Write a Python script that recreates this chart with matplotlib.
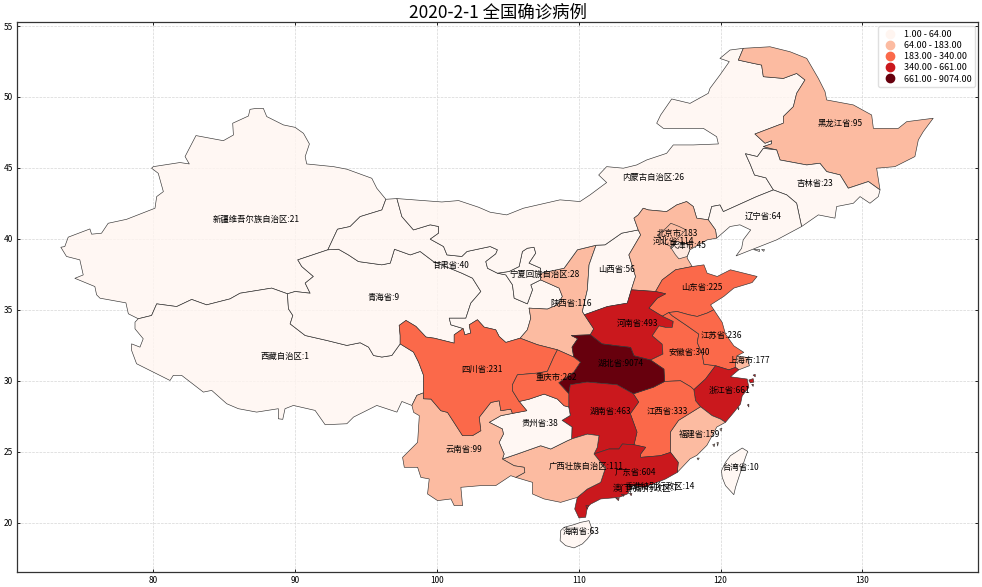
import matplotlib
matplotlib.use("Agg")
import matplotlib.pyplot as plt
from matplotlib.lines import Line2D
import numpy as np

plt.rcParams['font.family'] = ['Noto Sans CJK SC', 'DejaVu Sans']
plt.rcParams['axes.unicode_minus'] = False

TITLE = "2020-2-1 全国确诊病例"
CLASS_BREAKS = [1, 64, 183, 340, 661, 9074]
XTICKS = [80, 90, 100, 110, 120, 130]
YTICKS = [20, 25, 30, 35, 40, 45, 50, 55]

# Province names and confirmed cases
NAMES = {
 'xj': '新疆维吾尔族自治区', 'tb': '西藏自治区', 'qh': '青海省', 'gs': '甘肃省', 'nx': '宁夏回族自治区',
 'sn': '陕西省', 'sx': '山西省', 'im': '内蒙古自治区', 'hl': '黑龙江省', 'jl': '吉林省', 'ln': '辽宁省',
 'he': '河北省', 'bj': '北京市', 'tj': '天津市', 'sd': '山东省', 'ha': '河南省', 'ah': '安徽省', 'js': '江苏省',
 'sh': '上海市', 'zj': '浙江省', 'fj': '福建省', 'jx': '江西省', 'hb': '湖北省', 'hn': '湖南省', 'gd': '广东省',
 'gx': '广西壮族自治区', 'gz': '贵州省', 'yn': '云南省', 'sc': '四川省', 'cq': '重庆市', 'tw': '台湾省',
 'hi': '海南省', 'hk': '香港特别行政区', 'mo': '澳门特别行政区'}
CASES = {
 'xj': 21, 'tb': 1, 'qh': 9, 'gs': 40, 'nx': 28, 'sn': 116, 'sx': 56, 'im': 26, 'hl': 95, 'jl': 23, 'ln': 64,
 'he': 114, 'bj': 183, 'tj': 45, 'sd': 225, 'ha': 493, 'ah': 340, 'js': 236, 'sh': 177, 'zj': 661, 'fj': 159,
 'jx': 333, 'hb': 9074, 'hn': 463, 'gd': 604, 'gx': 111, 'gz': 38, 'yn': 99, 'sc': 231, 'cq': 262, 'tw': 10,
 'hi': 63, 'hk': 14, 'mo': 7}
LABEL_AT = {
 'xj': (87.27, 41.36), 'tb': (89.25, 31.74), 'qh': (96.24, 35.84), 'gs': (100.97, 38.1), 'nx': (107.6, 37.47),
 'sn': (109.45, 35.42), 'sx': (112.7, 37.82), 'im': (115.24, 44.33), 'hl': (128.45, 48.15), 'jl': (126.68, 43.9),
 'ln': (123.0, 41.57), 'he': (116.72, 39.8), 'bj': (117.0, 40.4), 'tj': (117.7, 39.5), 'sd': (118.7, 36.55),
 'ha': (114.18, 34.07), 'ah': (117.78, 32.02), 'js': (120.04, 33.22), 'sh': (122.02, 31.46), 'zj': (120.6, 29.34),
 'fj': (118.5, 26.22), 'jx': (116.28, 27.85), 'hb': (112.98, 31.2), 'hn': (112.27, 27.85), 'gd': (113.97, 23.54),
 'gx': (110.5, 23.98), 'gz': (107.26, 27.0), 'yn': (101.87, 25.16), 'sc': (103.16, 30.82), 'cq': (108.44, 30.25),
 'tw': (121.38, 23.89), 'hi': (110.16, 19.36), 'hk': (115.73, 22.57), 'mo': (114.75, 22.43)}

SEG = {
 'xj_outer': [(78.94,34.37),(78.24,34.72),(78.07,35.49),(76.24,35.82),(76.0,36.06),(75.88,36.64),(74.47,37.22),(75.06,37.46),(74.82,38.52),(73.88,38.76),(73.48,39.41),(73.76,39.46),(74.0,40.12),(75.53,40.7),(75.65,40.33),(76.35,40.4),(76.82,41.1),(78.12,41.38),(80.12,42.16),(80.24,42.98),(80.71,43.33),(80.35,44.62),(79.88,44.98),(80.0,45.09),(81.88,45.38),(82.54,45.28),(82.24,45.8),(83.01,47.28),(84.94,46.92),(85.65,47.32),(85.6,48.15),(86.71,48.66),(86.82,49.13),(87.29,49.2),(87.76,49.2),(88.0,48.62),(89.18,48.03),(90.0,47.86),(90.59,47.44),(91.01,46.69),(90.71,45.8),(90.82,45.28),(92.71,45.09),(93.65,44.91),(95.41,44.27),(95.76,43.57),(96.4,42.79)],
 'xj_gs': [(96.4,42.79),(96.12,42.04),(94.59,41.57),(93.88,40.87),(92.99,40.68),(92.31,39.23)],
 'xj_qh': [(92.31,39.23),(90.19,38.52),(90.47,38.05),(91.29,37.35),(90.71,36.88),(91.06,36.17),(90.0,36.29),(89.46,36.13)],
 'xj_tb': [(89.46,36.13),(88.35,36.53),(86.12,36.17),(85.41,35.77),(83.76,35.35),(82.71,35.73),(81.65,35.23),(80.24,35.42),(79.88,34.6),(78.94,34.37)],
 'tb_outer': [(78.94,34.37),(78.71,34.13),(78.71,33.66),(79.29,32.96),(79.06,32.37),(78.47,32.6),(78.47,32.14),(78.82,31.2),(80.0,30.61),(81.18,30.02),(81.41,30.38),(82.0,30.38),(83.53,29.2),(84.12,29.32),(85.18,28.38),(86.0,28.03),(87.29,27.79),(88.82,28.03),(88.82,27.32),(89.13,27.28),(89.29,28.03),(89.88,28.26),(91.41,27.91),(92.12,26.9),(93.65,26.97),(94.12,27.44),(95.76,28.26),(97.18,27.79),(97.53,28.54),(98.24,28.26)],
 'tb_yn': [(98.24,28.26),(98.59,28.97),(99.06,29.15)],
 'tb_sc': [(99.06,29.15),(99.06,30.38),(98.71,31.31),(98.35,32.02),(97.41,32.6)],
 'tb_qh': [(97.41,32.6),(96.82,31.78),(96.12,31.67),(95.53,31.78),(95.18,32.37),(94.59,32.68),(93.65,32.49),(92.24,32.84),(90.71,33.19),(89.65,34.01),(89.84,34.6),(89.53,35.07),(89.46,36.13)],
 'qh_sc': [(97.41,32.6),(97.41,33.19),(97.34,33.9),(97.82,34.25),(98.52,33.83),(99.23,33.08),(99.81,33.0),(101.22,32.65),(101.22,33.24),(101.85,33.68)],
 'qh_gs': [(92.31,39.23),(93.06,39.27),(93.76,38.87),(94.47,38.4),(96.12,38.17),(96.71,38.29),(97.01,39.27),(98.12,38.87),(98.82,39.11),(99.76,38.4),(101.76,37.58),(102.51,37.23),(103.1,36.29),(102.39,35.47),(102.04,34.41),(100.87,34.41),(100.99,33.94),(101.85,33.68)],
 'gs_outer': [(96.4,42.79),(97.18,42.84)],
 'gs_im': [(97.18,42.84),(97.53,41.57),(98.35,40.63),(99.53,40.99),(100.12,40.87),(100.12,40.4),(99.53,39.98),(100.47,39.46),(100.71,38.87),(101.76,38.76),(102.12,39.11),(103.76,39.46),(104.27,39.23),(104.15,38.94),(103.45,38.4),(103.57,37.93),(104.27,37.58)],
 'gs_nx': [(104.27,37.58),(104.86,37.46),(105.33,36.76),(105.45,35.82),(106.38,35.42),(106.74,36.41),(106.62,36.76),(107.32,37.11)],
 'gs_sn': [(107.32,37.11),(108.62,36.53),(108.85,35.94),(108.5,35.35),(107.79,35.05),(106.5,35.12),(106.62,34.41),(106.38,33.59),(105.87,33.0)],
 'gs_sc': [(105.87,33.0),(104.86,32.7),(104.39,33.12),(104.15,33.59),(103.33,33.78),(102.86,34.3),(102.28,33.94),(102.39,33.36),(101.97,33.24),(101.85,33.68)],
 'nx_im': [(104.27,37.58),(105.09,37.7),(105.8,38.05),(106.03,39.11),(106.38,39.34),(106.85,39.41),(106.97,38.99),(106.5,38.29),(107.32,37.93),(107.32,37.58)],
 'nx_sn': [(107.32,37.58),(107.32,37.11)],
 'sn_im': [(107.32,37.58),(108.97,37.93),(109.91,39.23),(111.22,39.55)],
 'sn_sx': [(111.22,39.55),(110.73,38.17),(110.61,36.41),(110.26,34.88),(110.4,34.65)],
 'sn_ha': [(110.4,34.65),(111.06,33.66),(110.82,33.24)],
 'sn_hb': [(110.82,33.24),(109.48,33.19),(109.93,32.96),(109.53,32.37),(109.65,31.67)],
 'sn_cq': [(109.65,31.67),(108.5,32.18)],
 'sn_sc': [(108.5,32.18),(107.09,32.54),(105.87,33.0)],
 'sx_im': [(111.22,39.55),(111.86,39.58),(113.03,40.4),(114.2,40.63)],
 'sx_he': [(114.2,40.63),(114.37,40.28),(113.54,38.87),(114.01,37.35),(113.71,36.41)],
 'sx_ha': [(113.71,36.41),(113.43,35.47),(112.02,35.23),(110.4,34.65)],
 'he_im': [(114.2,40.63),(113.9,41.46),(114.2,41.69),(114.55,42.16),(114.91,42.04),(116.2,41.92),(116.91,42.39),(117.61,42.63),(118.08,42.28),(118.32,41.46),(119.14,41.34)],
 'he_ln': [(119.14,41.34),(119.65,40.63),(119.73,40.05)],
 'he_coast': [(119.73,40.05),(119.06,39.93),(117.84,39.23),(117.65,38.76),(117.65,38.64),(118.0,38.05)],
 'he_sd': [(118.0,38.05),(116.83,37.82),(115.89,37.11),(115.42,36.29)],
 'he_ha': [(115.42,36.29),(113.71,36.41)],
 'im_outer': [(97.18,42.84),(100.35,42.6),(101.53,42.7),(102.94,42.23),(103.75,41.88),(104.92,41.69),(106.1,42.16),(108.68,42.75),(110.09,42.63),(110.8,43.1),(111.97,43.97),(111.41,44.5),(111.97,45.09),(113.15,44.98),(114.09,45.21),(114.79,45.56),(116.2,46.03),(116.67,46.62),(118.08,46.62),(119.85,46.69),(119.73,47.2),(118.79,47.79),(117.26,47.79),(115.97,47.79),(115.5,48.15),(115.78,48.73),(116.56,49.86),(117.85,49.55),(119.14,50.26),(119.26,50.61),(119.96,51.55),(120.62,52.49),(119.96,52.72),(120.67,53.31),(121.61,53.43)],
 'im_hl': [(121.61,53.43),(121.26,52.6),(122.31,52.37),(122.9,52.25),(123.02,51.43),(124.43,51.31),(125.37,51.66),(125.96,51.2),(125.37,50.26),(125.14,49.32),(124.43,48.62),(124.43,48.15),(122.43,47.39),(123.14,46.74),(123.61,46.92),(123.6,46.7),(123.02,46.5),(123.96,46.27)],
 'im_jl': [(123.96,46.27),(123.02,46.38),(122.6,45.8),(121.76,46.0),(122.1,45.25),(122.4,44.5),(123.2,44.3),(123.73,43.45)],
 'im_ln': [(123.73,43.45),(122.55,42.98),(120.2,41.92),(119.96,42.39),(119.38,42.28),(119.14,41.34)],
 'hl_outer': [(121.61,53.43),(123.49,53.54),(124.9,53.19),(126.08,52.72),(126.9,51.31),(127.37,50.38),(127.49,49.79),(129.37,49.44),(130.66,48.73),(130.78,47.79),(132.54,47.79),(133.13,48.26),(135.0,48.5),(134.3,47.56),(133.95,46.97),(133.71,45.8),(132.3,45.09),(131.01,44.98),(131.25,43.45)],
 'hl_jl': [(131.25,43.45),(130.43,44.04),(129.01,43.57),(128.43,44.51),(127.49,44.74),(127.01,45.33),(126.08,45.21),(124.2,45.56),(123.96,46.27)],
 'jl_outer': [(131.25,43.45),(131.13,42.98),(130.54,42.51),(129.84,42.98),(129.37,42.51),(128.19,42.28),(128.07,41.46),(126.9,41.69),(125.72,40.87)],
 'jl_ln': [(125.72,40.87),(125.37,42.51),(124.67,43.1),(123.73,43.45)],
 'ln_coast': [(119.73,40.05),(120.67,40.87),(121.37,40.99),(122.13,40.63),(121.6,39.93),(121.49,39.34),(121.1,38.8),(121.85,39.1),(123.96,39.93),(125.72,40.87)],
 'sd_coast': [(118.0,38.05),(118.83,38.17),(119.06,37.58),(119.77,37.35),(120.7,37.82),(122.58,37.35),(122.23,36.92),(120.94,36.53),(120.23,35.94),(119.3,35.35),(119.53,35.0)],
 'sd_js': [(119.53,35.0),(119.06,34.77),(118.36,34.53),(117.77,34.65),(116.95,34.88),(116.36,34.81)],
 'sd_ah': [(116.36,34.81),(115.9,34.55)],
 'sd_ha': [(115.9,34.55),(115.72,34.65),(114.95,35.12),(115.54,35.82),(116.13,36.13),(115.42,36.29)],
 'ha_ah': [(115.9,34.55),(116.67,34.18),(116.6,33.76),(116.13,33.76),(115.66,33.87),(115.19,33.17),(115.89,32.58),(115.94,31.88),(115.07,31.46)],
 'ha_hb': [(115.07,31.46),(113.9,31.76),(113.66,32.35),(112.72,32.46),(111.64,32.6),(110.82,33.24)],
 'ah_js': [(116.36,34.81),(116.6,34.58),(117.65,33.87),(118.47,33.29),(118.36,32.7),(118.71,31.88),(118.83,31.17),(119.65,31.06)],
 'ah_zj': [(119.65,31.06),(118.94,30.12),(118.12,29.37)],
 'ah_jx': [(118.12,29.37),(117.89,29.58),(117.18,30.0),(116.06,29.95)],
 'ah_hb': [(116.06,29.95),(116.01,30.82),(115.07,31.46)],
 'js_coast': [(119.53,35.0),(120.12,34.11),(120.35,33.29),(120.94,32.46),(121.64,32.0),(121.17,31.76)],
 'js_sh': [(121.17,31.76),(121.06,31.17),(121.06,30.94)],
 'js_zj': [(121.06,30.94),(120.59,30.77),(119.65,31.06)],
 'sh_coast': [(121.17,31.76),(121.88,31.64),(122.04,31.06),(121.29,30.77)],
 'sh_zj': [(121.29,30.77),(121.06,30.94)],
 'zj_coast': [(121.29,30.77),(120.7,30.28),(121.88,30.12),(122.0,29.53),(121.53,28.94),(121.41,28.36),(120.94,27.77),(120.35,27.07)],
 'zj_fj': [(120.35,27.07),(120.0,27.3),(119.41,27.54),(118.59,28.17)],
 'zj_jx': [(118.59,28.17),(118.24,28.59),(118.12,29.37)],
 'fj_coast': [(120.35,27.07),(119.74,26.74),(119.04,25.45),(118.33,24.74),(117.86,24.5),(116.95,23.54)],
 'fj_gd': [(116.95,23.54),(117.02,24.25),(116.48,24.95)],
 'fj_jx': [(116.48,24.95),(116.46,26.38),(117.04,27.21),(118.59,28.17)],
 'jx_gd': [(116.48,24.95),(115.77,24.72),(114.37,24.6),(114.37,24.84),(114.72,25.31),(113.9,25.49)],
 'jx_hn': [(113.9,25.49),(114.11,26.38),(113.64,27.68),(114.23,28.5),(113.85,29.08)],
 'jx_hb': [(113.85,29.08),(115.28,29.55),(116.06,29.95)],
 'hb_hn': [(113.85,29.08),(112.7,29.72),(110.59,29.91),(109.41,29.72),(109.3,29.08)],
 'hb_cq': [(109.3,29.08),(108.59,29.86),(109.65,30.61),(110.12,31.31),(109.65,31.67)],
 'hn_cq': [(109.3,29.08),(109.3,28.15)],
 'hn_gz': [(109.3,28.15),(109.41,27.56),(108.83,27.21),(109.53,26.74),(109.5,25.9)],
 'hn_gx': [(109.5,25.9),(110.61,26.24),(111.43,26.13),(111.31,25.3),(111.08,24.84)],
 'hn_gd': [(111.08,24.84),(112.14,25.19),(112.84,25.19),(113.08,25.54),(113.9,25.49)],
 'gd_coast': [(116.95,23.54),(116.13,23.08),(115.54,22.84),(114.6,22.49),(113.78,22.6),(113.43,22.02),(112.84,21.78),(111.55,21.67),(110.85,21.31),(110.61,21.08),(110.49,20.38),(110.02,20.33),(109.72,20.96),(109.9,21.78)],
 'gd_gx': [(109.9,21.78),(110.61,22.37),(111.55,22.84),(111.9,23.9),(111.55,24.25),(111.08,24.84)],
 'gx_coast': [(109.9,21.78),(108.73,21.43),(107.56,21.67),(106.74,22.02),(106.74,22.84),(105.56,23.19)],
 'gx_yn': [(105.56,23.19),(106.2,23.54),(106.15,23.9),(105.45,24.01),(104.62,24.48)],
 'gx_gz': [(104.62,24.48),(105.68,24.84),(107.32,25.42),(108.03,25.19),(109.2,25.77),(109.5,25.9)],
 'gz_yn': [(104.62,24.48),(104.74,24.84),(104.39,25.66),(104.69,26.24),(104.62,26.6),(103.69,27.07),(104.51,27.54),(105.33,27.7)],
 'gz_sc': [(105.33,27.7),(106.34,27.89),(105.8,28.54)],
 'gz_cq': [(105.8,28.54),(106.5,28.7),(107.56,29.06),(108.5,28.71),(108.97,28.24),(109.3,28.15)],
 'yn_sc': [(105.33,27.7),(105.21,28.0),(104.51,27.89),(104.39,28.59),(103.8,28.47),(102.98,27.42),(103.1,26.48),(102.51,26.13),(101.81,26.13),(100.75,27.77),(100.28,27.89),(99.58,28.71),(99.06,28.73),(99.06,29.15)],
 'yn_outer': [(105.56,23.19),(105.21,23.31),(104.15,22.61),(103.1,22.61),(101.69,22.49),(101.81,21.2),(101.22,21.2),(100.99,21.67),(100.05,21.55),(99.34,22.02),(99.46,23.08),(98.87,23.19),(98.64,23.9),(97.7,23.9),(97.58,24.6),(98.64,25.66),(98.76,27.54),(98.36,27.77),(98.24,28.26)],
 'sc_cq': [(108.5,32.18),(108.26,31.71),(107.79,30.66),(107.09,30.54),(105.68,30.42),(105.33,29.72),(105.33,29.3),(105.8,28.54)],
}
OWN = {
 'bj': [[(116.5,41.1),(117.09,40.87),(117.56,40.64),(116.98,40.05),(116.5,39.46),(116.04,39.69),(115.56,40.28),(116.15,40.75)]],
 'tj': [[(116.95,39.81),(116.48,39.41),(116.83,38.87),(117.07,38.59),(117.65,38.76),(117.84,39.23),(117.77,39.58)]],
 'tw': [[(121.53,25.26),(121.92,25.02),(121.76,24.6),(121.29,23.19),(121.06,22.49),(120.94,21.97),(120.35,22.61),(120.12,23.19),(120.07,23.66),(120.35,24.25),(120.7,24.72),(121.06,24.95)]],
 'hi': [[(108.73,19.44),(108.97,19.67),(109.67,19.86),(110.14,20.02),(110.73,20.14),(110.89,19.67),(110.96,19.32),(110.61,18.85),(110.26,18.5),(109.67,18.22),(109.08,18.38),(108.69,18.73)]],
 'hk': [[(114.0,22.5),(114.4,22.55),(114.35,22.25),(114.0,22.25)]],
 'mo': [[(113.5,22.2),(113.6,22.2),(113.6,22.1),(113.5,22.1)]],
}
ISLANDS = {
 'zj': [[(122.0,30.05),(122.3,30.15),(122.35,29.9),(122.1,29.85)],[(122.3,30.4),(122.45,30.45),(122.45,30.28)],[(121.9,28.3),(122.0,28.35),(122.0,28.15)],
        [(122.2,29.75),(122.32,29.75),(122.3,29.6)],[(121.2,28.1),(121.3,28.1),(121.28,27.95)]],
 'ln': [[(122.3,39.3),(122.7,39.3),(122.7,39.18)],[(122.9,39.25),(123.1,39.25),(123.05,39.12)]],
 'gd': [[(112.6,21.75),(112.85,21.7),(112.8,21.55)],[(113.0,22.0),(113.2,22.0),(113.15,21.85)],[(110.5,21.2),(110.7,21.2),(110.6,20.95)],
        [(113.6,22.05),(113.75,22.05),(113.7,21.9)],[(114.6,22.45),(114.72,22.45),(114.7,22.33)]],
 'fj': [[(119.75,25.65),(119.85,25.65),(119.8,25.4)],[(119.45,25.5),(119.6,25.55),(119.55,25.35)],[(118.35,24.55),(118.5,24.55),(118.42,24.42)],
        [(119.95,26.6),(120.1,26.65),(120.05,26.45)]],
}
ROUTES = {
 'xj': 'xj_outer xj_gs xj_qh xj_tb',
 'tb': 'tb_outer tb_yn tb_sc tb_qh xj_tb',
 'qh': 'xj_qh ~tb_qh qh_sc ~qh_gs',
 'gs': 'gs_outer gs_im gs_nx gs_sn gs_sc ~qh_gs ~xj_gs',
 'nx': 'nx_im nx_sn ~gs_nx',
 'sn': 'sn_im sn_sx sn_ha sn_hb sn_cq sn_sc ~gs_sn ~nx_sn',
 'sx': 'sx_im sx_he sx_ha ~sn_sx',
 'im': 'im_outer im_hl im_jl im_ln ~he_im ~sx_im ~sn_im ~nx_im ~gs_im',
 'hl': 'hl_outer hl_jl ~im_hl',
 'jl': 'jl_outer jl_ln ~im_jl ~hl_jl',
 'ln': 'he_ln ln_coast jl_ln im_ln',
 'he': 'he_im he_ln he_coast he_sd he_ha ~sx_he',
 'sd': 'sd_coast sd_js sd_ah sd_ha ~he_sd',
 'ha': 'he_ha sx_ha sn_ha ~ha_hb ~ha_ah sd_ha',
 'ah': '~sd_ah ah_js ah_zj ah_jx ah_hb ~ha_ah',
 'js': 'js_coast js_sh js_zj ~ah_js ~sd_js',
 'sh': 'sh_coast sh_zj ~js_sh',
 'zj': 'zj_coast zj_fj zj_jx ~ah_zj ~js_zj ~sh_zj',
 'fj': 'fj_coast fj_gd fj_jx ~zj_fj',
 'jx': 'ah_jx ~jx_hb ~jx_hn ~jx_gd fj_jx zj_jx',
 'hb': 'sn_hb ~hb_cq ~hb_hn jx_hb ah_hb ha_hb',
 'hn': 'hn_cq hn_gz hn_gx hn_gd jx_hn hb_hn',
 'gd': 'gd_coast gd_gx hn_gd ~jx_gd ~fj_gd',
 'gx': 'gx_coast gx_yn gx_gz hn_gx ~gd_gx',
 'gz': 'gz_yn gz_sc gz_cq hn_gz ~gx_gz',
 'yn': 'yn_outer tb_yn ~yn_sc ~gz_yn ~gx_yn',
 'sc': 'tb_sc qh_sc ~gs_sc ~sn_sc sc_cq ~gz_sc yn_sc',
 'cq': 'sn_cq sc_cq gz_cq ~hn_cq hb_cq',
}
DRAW_ORDER = ['xj','tb','qh','gs','nx','sn','sx','im','hl','jl','ln','he','sd','ha','ah','js','sh','zj','fj','jx',
              'hb','hn','gd','gx','gz','yn','sc','cq','bj','tj','tw','hi','hk','mo']


def ring(route):
    pts = []
    for name in route.split():
        s = SEG[name.lstrip('~')]
        pts.extend(s[::-1] if name.startswith('~') else s)
    return pts


W, H = 982, 587
fig = plt.figure(figsize=(W / 100, H / 100), dpi=100)
ax = fig.add_axes([17.3 / W, 1 - 572.3 / H, (978.3 - 17.3) / W, (572.3 - 21.5) / H])
ax.set_xlim(70.41, 138.18)
ax.set_ylim(16.5, 55.32)
ax.set_xticks(XTICKS)
ax.set_yticks(YTICKS)
ax.tick_params(direction='in', top=True, right=True, length=2.5, width=0.6, labelsize=6, pad=3)
ax.grid(True, ls='--', lw=0.5, color='#d6d6d6', zorder=0)
ax.set_axisbelow(True)
for sp in ax.spines.values():
    sp.set_linewidth(0.9)
    sp.set_color('#333333')

cmap = plt.get_cmap('Reds')
n_classes = len(CLASS_BREAKS) - 1
class_colors = [cmap(i / (n_classes - 1)) for i in range(n_classes)]
FILL_ALPHA = [0.8, 1, 1, 1, 1]


def class_of(v):
    return min(max(np.searchsorted(CLASS_BREAKS, v, side='left') - 1, 0), n_classes - 1)


for code in DRAW_ORDER:
    k = class_of(CASES[code])
    face = class_colors[k][:3] + (FILL_ALPHA[k],)
    rings = OWN.get(code, [ring(ROUTES[code])] if code in ROUTES else [])
    rings = rings + ISLANDS.get(code, [])
    for r in rings:
        xs, ys = zip(*r)
        ax.fill(xs, ys, facecolor=face, edgecolor='#333333', linewidth=0.45, zorder=2, joinstyle='round')

for code in DRAW_ORDER:
    x, y = LABEL_AT[code]
    ax.text(x, y, f"{NAMES[code]}:{CASES[code]}", fontsize=6, ha='center', va='center', color='black', zorder=5)

handles = [Line2D([], [], ls='none', marker='o', ms=6, mfc=class_colors[i], mec=class_colors[i])
           for i in range(n_classes)]
labels = [f"{CLASS_BREAKS[i]:.2f} - {CLASS_BREAKS[i + 1]:.2f}" for i in range(n_classes)]
ax.legend(handles, labels, loc='upper right', framealpha=0.8, edgecolor='#d8d8d8',
          bbox_to_anchor=(0.9965, 0.991), borderaxespad=0, labelspacing=0.24, handletextpad=0.5,
          borderpad=0.38, handlelength=2.0, prop={'family': ['Noto Sans CJK SC'], 'size': 6.5})

ax.set_title(TITLE, fontsize=12.5, pad=3)
fig.savefig('out.png', dpi=100)
